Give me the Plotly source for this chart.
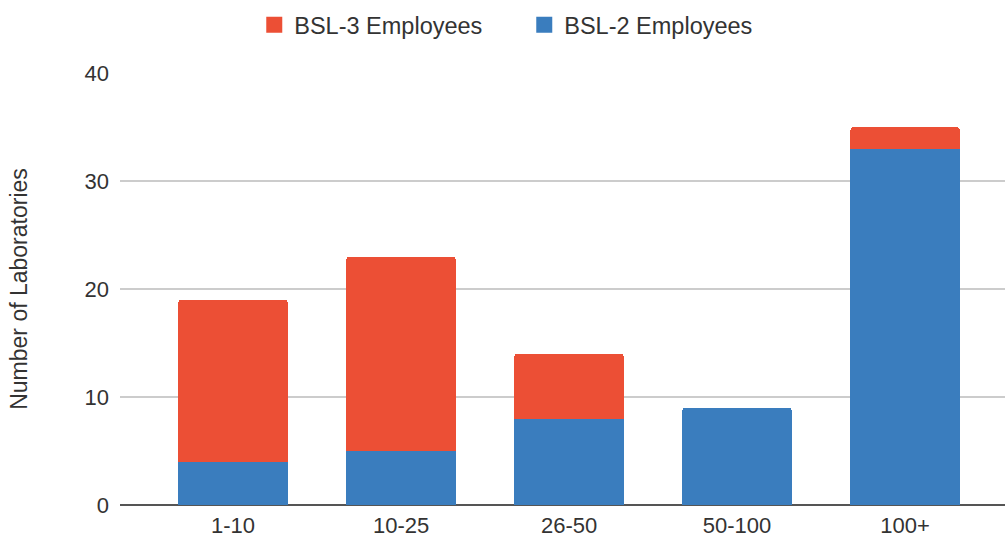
import plotly.graph_objects as go

categories = ["1-10", "10-25", "26-50", "50-100", "100+"]
bsl2 = [4, 5, 8, 9, 33]
bsl3 = [15, 18, 6, 0, 2]
y_ticks = [0, 10, 20, 30, 40]

RED = "#EC4F35"
BLUE = "#3A7DBE"
FONT = "Liberation Sans, Arial, sans-serif"

xs = list(range(len(categories)))
fig = go.Figure()
fig.add_trace(go.Bar(x=xs, y=bsl2, name="BSL-2 Employees", showlegend=False,
                     marker=dict(color=BLUE, line=dict(width=0)), width=0.65))
fig.add_trace(go.Bar(x=xs, y=bsl3, name="BSL-3 Employees", showlegend=False,
                     marker=dict(color=RED, line=dict(width=0)), width=0.65))
# legend entries (square swatches)
fig.add_trace(go.Scatter(x=[None], y=[None], mode="markers", name="BSL-3 Employees",
                         marker=dict(symbol="square", size=16, color=RED)))
fig.add_trace(go.Scatter(x=[None], y=[None], mode="markers", name="BSL-2 Employees",
                         marker=dict(symbol="square", size=16, color=BLUE)))

fig.update_layout(
    width=1005, height=539,
    barmode="stack",
    barcornerradius=3,
    plot_bgcolor="white", paper_bgcolor="white",
    font=dict(family=FONT, size=22, color="#333333"),
    margin=dict(l=120, r=0, t=73, b=34, autoexpand=False),
    legend=dict(orientation="h", xref="container", x=0.253, xanchor="left",
                yref="container", y=1 - 25 / 539, yanchor="middle",
                traceorder="normal",
                font=dict(size=23.5), itemsizing="trace", entrywidth=225,
                bgcolor="rgba(0,0,0,0)"),
    xaxis=dict(range=[-0.673, 4.595], tickmode="array",
               tickvals=xs, ticktext=categories, automargin=False,
               showgrid=False, zeroline=False, showline=False,
               ticks="", ticklabelstandoff=5),
    yaxis=dict(range=[0, 40], tickvals=y_ticks, showgrid=True, gridcolor="#CCCCCC",
               gridwidth=1.5, zeroline=True, zerolinecolor="#555555", zerolinewidth=2,
               ticklabelstandoff=10, automargin=False,
               title=dict(text="Number of Laboratories", font=dict(size=23), standoff=50)),
)

fig.write_html("out.html", config={"displayModeBar": False},
               post_script="document.body.style.margin='0px';")
